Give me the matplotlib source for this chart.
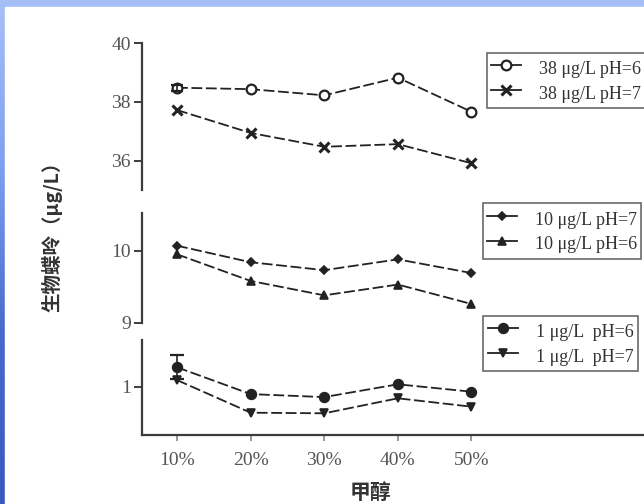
import numpy as np
import matplotlib as mpl
mpl.use('Agg')
import matplotlib.pyplot as plt
from matplotlib.colors import LinearSegmentedColormap
from matplotlib.patches import Rectangle
from matplotlib.lines import Line2D

W, H, DPI = 644, 504, 100

# methanol fraction (x axis)
methanol = ["10%", "20%", "30%", "40%", "50%"]

# 38 ug/L
c38_ph6 = [38.48, 38.43, 38.22, 38.82, 37.66]
c38_ph7 = [37.72, 36.94, 36.47, 36.56, 35.91]
c38_ph6_err = 0.1
# 10 ug/L
c10_ph7 = [10.07, 9.84, 9.73, 9.88, 9.69]
c10_ph6 = [9.95, 9.58, 9.38, 9.53, 9.26]
# 1 ug/L
c1_ph6 = [1.097, 0.963, 0.948, 1.012, 0.975]
c1_ph7 = [1.033, 0.870, 0.867, 0.942, 0.900]
c1_ph6_err = 0.06

lab38 = ["38 μg/L pH=6", "38 μg/L pH=7"]
lab10 = ["10 μg/L pH=7", "10 μg/L pH=6"]
lab1 = ["1 μg/L  pH=6", "1 μg/L  pH=7"]

serif = "Liberation Serif"
cjk = ["Noto Sans CJK SC", "DejaVu Sans"]
ink = "#222222"
spine_c = "#3c3c3c"
dash = (0, (6, 2))

x = np.arange(len(methanol))

fig = plt.figure(figsize=(W / DPI, H / DPI), dpi=DPI)

# slide background: blue gradient with white card
bg = fig.add_axes([0, 0, 1, 1])
cmap = LinearSegmentedColormap.from_list("slide", ["#a6c0f7", "#7f9ff0", "#4a68cc", "#3a58c0"])
bg.imshow(np.linspace(0, 1, 256)[:, None], aspect="auto", cmap=cmap, extent=[0, W, H, 0])
bg.add_patch(Rectangle((5, 7), W - 5, H - 7, color="white"))
bg.set_xlim(0, W)
bg.set_ylim(H, 0)
bg.axis("off")


def px_axes(left, top, right, bottom):
    return fig.add_axes([left / W, 1 - bottom / H, (right - left) / W, (bottom - top) / H])


x_left, x_right = 142, 720
step = (471.5 - 177) / 4
xlim = (-(177 - x_left) / step, 4 + (x_right - 471.5) / step)


def style(ax, ylim, ticks, labels, bottom=False):
    ax.set_facecolor("none")
    ax.set_xlim(xlim)
    ax.set_ylim(ylim)
    for s in ["top", "right"]:
        ax.spines[s].set_visible(False)
    ax.spines["left"].set_color(spine_c)
    ax.spines["left"].set_linewidth(1.6)
    ax.set_yticks(ticks)
    ax.set_yticklabels(labels, fontfamily=serif, fontsize=14, color="#555555")
    ax.tick_params(axis="y", length=6, width=1.4, color=spine_c, pad=2)
    if bottom:
        ax.spines["bottom"].set_color(spine_c)
        ax.spines["bottom"].set_linewidth(1.6)
        ax.set_xticks(x)
        ax.set_xticklabels(methanol, fontfamily=serif, fontsize=14, color="#555555")
        ax.tick_params(axis="x", length=4, width=1.2, color="#888888", pad=8)
    else:
        ax.spines["bottom"].set_visible(False)
        ax.set_xticks([])


def series(ax, y, marker, ms, mfc=ink, mew=1.2):
    ax.plot(x, y, color=ink, linestyle=dash, linewidth=1.3, marker=marker,
            markersize=ms, markerfacecolor=mfc, markeredgecolor=ink,
            markeredgewidth=mew)
    # solid handle for the legend
    return Line2D([], [], color=ink, linewidth=1.3, marker=marker, markersize=ms,
                  markerfacecolor=mfc, markeredgecolor=ink, markeredgewidth=mew)


def legend(handles, labels, left, top):
    leg = fig.legend(handles, labels, loc="upper left", bbox_to_anchor=(left / W, 1 - top / H),
                     bbox_transform=fig.transFigure, frameon=True, fancybox=False,
                     borderpad=0.235, borderaxespad=0, handlelength=1.66, handleheight=1.5,
                     labelspacing=0.16, handletextpad=1.0,
                     prop={"family": serif, "size": 13})
    leg.get_frame().set_edgecolor("#444444")
    leg.get_frame().set_linewidth(1.2)
    for t in leg.get_texts():
        t.set_color("#333333")
    return leg


# top panel: 38 ug/L
ax1 = px_axes(x_left, 43, x_right, 190)
style(ax1, (35.0, 40.0), [36, 38, 40], ["36", "38", "40"])
h1 = series(ax1, c38_ph6, "o", 7, mfc="white", mew=1.6)
h2 = series(ax1, c38_ph7, "x", 6.5, mew=2.2)
ax1.errorbar(x[:1], c38_ph6[:1], yerr=c38_ph6_err, fmt="none", ecolor=ink, elinewidth=1.2, capsize=4, capthick=1.6)

# middle panel: 10 ug/L
ax2 = px_axes(x_left, 213.3, x_right, 322.7)
style(ax2, (9.0, 10.52), [9, 10], ["9", "10"])
h3 = series(ax2, c10_ph7, "D", 4.5)
h4 = series(ax2, c10_ph6, "^", 6)

# bottom panel: 1 ug/L
ax3 = px_axes(x_left, 340, x_right, 435)
style(ax3, (0.7585, 1.2335), [1], ["1"], bottom=True)
h5 = series(ax3, c1_ph6, "o", 7)
h6 = series(ax3, c1_ph7, "v", 6)
ax3.errorbar(x[:1], c1_ph6[:1], yerr=c1_ph6_err, fmt="none", ecolor=ink, elinewidth=1.2, capsize=5, capthick=1.6)

legend([h1, h2], lab38, 487, 52.7)
legend([h3, h4], lab10, 482.7, 203.3)
legend([h5, h6], lab1, 483.3, 315.7)

fig.text(52 / W, 1 - 232 / H, "生物蝶呤（μg/L）", rotation=90, ha="center", va="center",
         fontsize=14, fontweight="bold", family=cjk, color="#333333")
fig.text(370 / W, 1 - 482 / H, "甲醇", ha="center", va="top",
         fontsize=15, fontweight="bold", family=cjk, color="#333333")

fig.savefig("out.png", dpi=DPI)
